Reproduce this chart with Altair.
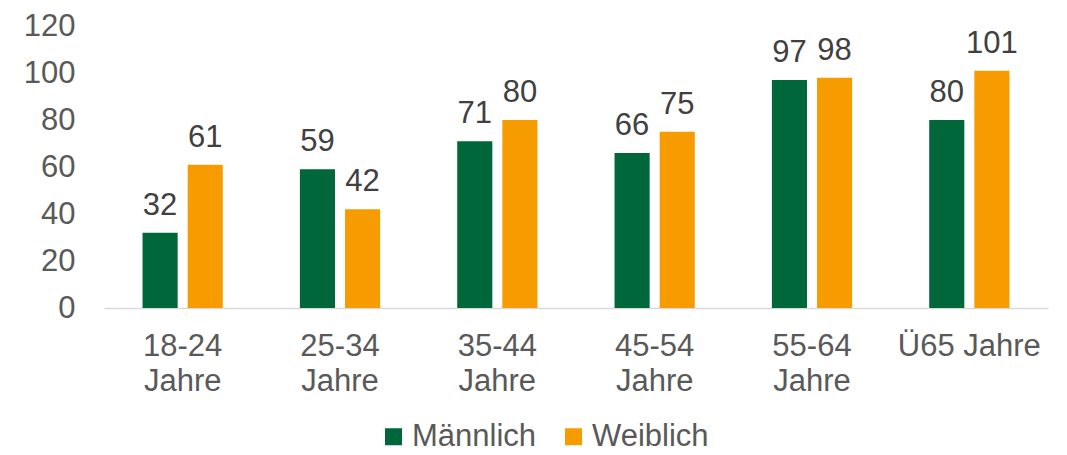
import altair as alt
import pandas as pd

categories = ["18-24 Jahre", "25-34 Jahre", "35-44 Jahre", "45-54 Jahre", "55-64 Jahre", "Ü65 Jahre"]
series = ["Männlich", "Weiblich"]
maennlich = [32, 59, 71, 66, 97, 80]
weiblich = [61, 42, 80, 75, 98, 101]
colors = ["#00673A", "#F79C00"]
y_ticks = [0, 20, 40, 60, 80, 100, 120]

rows = []
for c, m, w in zip(categories, maennlich, weiblich):
    rows.append({"Kategorie": c, "Geschlecht": "Männlich", "Wert": m})
    rows.append({"Kategorie": c, "Geschlecht": "Weiblich", "Wert": w})
df = pd.DataFrame(rows)

FONT = "Liberation Sans"

x = alt.X("Kategorie:N", sort=categories, title=None,
          scale=alt.Scale(paddingInner=0.49, paddingOuter=0.245),
          axis=alt.Axis(labelAngle=0, labelFontSize=31, labelColor="#595959",
                        labelFont=FONT, labelPadding=23, labelLineHeight=35,
                        ticks=False, domainColor="#D9D9D9", domainWidth=1.5,
                        labelExpr="datum.value == 'Ü65 Jahre' ? datum.value : split(datum.value, ' ')"))
xo = alt.XOffset("Geschlecht:N", sort=series,
                 scale=alt.Scale(paddingInner=0.222, paddingOuter=0))
y = alt.Y("Wert:Q", title=None,
          scale=alt.Scale(domain=[0, 120], nice=False),
          axis=alt.Axis(values=y_ticks, grid=False, domain=False, ticks=False,
                        labelFontSize=31, labelColor="#595959", labelFont=FONT,
                        labelPadding=29))
color = alt.Color("Geschlecht:N", sort=series,
                  scale=alt.Scale(domain=series, range=colors),
                  legend=alt.Legend(title=None, orient="none", direction="horizontal",
                                    legendX=274, legendY=395, symbolType="square",
                                    symbolSize=289, symbolStrokeWidth=0,
                                    labelFontSize=31, labelColor="#595959",
                                    labelFont=FONT, labelOffset=3, columnPadding=21,
                                    padding=0))

bars = alt.Chart(df).mark_bar().encode(x=x, xOffset=xo, y=y, color=color)
labels = alt.Chart(df).mark_text(baseline="alphabetic", dy=-18, fontSize=31,
                                 color="#404040", font=FONT).encode(
    x=alt.X("Kategorie:N", sort=categories),
    xOffset=alt.XOffset("Geschlecht:N", sort=series),
    y="Wert:Q",
    text="Wert:Q")

chart = (bars + labels).properties(
    width=944, height=282,
    autosize=alt.AutoSizeParams(type="none"),
    padding={"left": 96, "top": 18, "right": 10, "bottom": 140},
).configure_view(stroke=None)

chart.save("out.html", embed_options={"renderer": "svg", "actions": False})
